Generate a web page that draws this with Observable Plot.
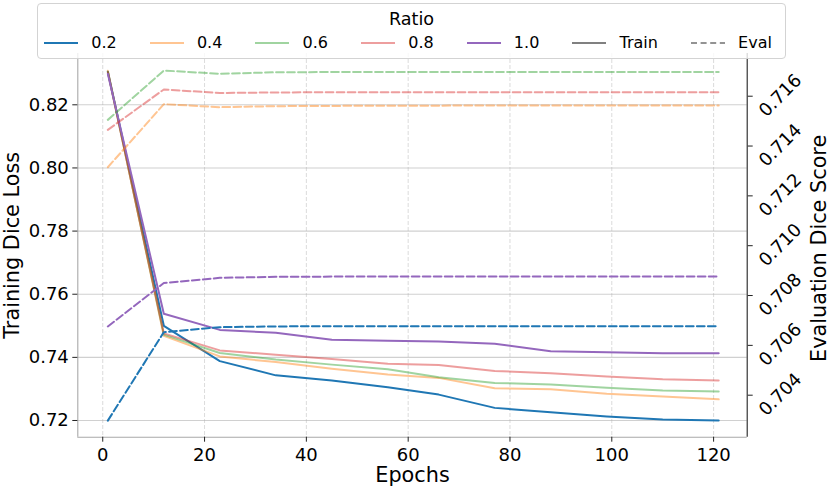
<!DOCTYPE html>
<html>
<head>
<meta charset="utf-8">
<script src="https://cdn.jsdelivr.net/npm/d3@7"></script>
<script src="https://cdn.jsdelivr.net/npm/@observablehq/plot@0.6"></script>
<style>
  html, body { margin: 0; padding: 0; background: #fff; }
  #wrap { position: relative; width: 830px; height: 488px; font-family: "DejaVu Sans", sans-serif; color: #000; }
  #legend { position: absolute; left: 37px; top: 3px; width: 749px; height: 56px; box-sizing: border-box;
            border: 1px solid #d3d3d3; border-radius: 4px; background: rgba(255,255,255,0.8); font-size: 16px; }
  #legend .title { position: absolute; top: 5px; left: 0; right: 0; text-align: center; line-height: 20px; font-size: 17.6px; }
  #legend .row { position: absolute; top: 29px; left: 6px; height: 20px; display: flex; align-items: center; line-height: 20px; white-space: nowrap; }
  #legend .item { display: flex; align-items: center; margin-right: 32.9px; }
  #legend .item:last-child { margin-right: 0; }
  #legend svg { display: block; margin-right: 13.3px; }
</style>
</head>
<body>
<div id="wrap"></div>
<script>
// ---- data ----
const epochs = [1, 12, 23, 34, 45, 56, 66, 77, 88, 99, 110, 121];
const ratios = ["0.2", "0.4", "0.6", "0.8", "1.0"];
const ratioColors = ["#1f77b4", "#ff7f0e", "#2ca02c", "#d62728", "#9467bd"];
const ratioOpacity = [1, 0.45, 0.45, 0.45, 1];

const train02 = [0.8305, 0.7500, 0.7388, 0.7343, 0.7327, 0.7305, 0.7282, 0.7240, 0.7226, 0.7213, 0.7203, 0.7200];
const train04 = [0.8308, 0.7468, 0.7403, 0.7385, 0.7364, 0.7346, 0.7335, 0.7302, 0.7299, 0.7285, 0.7276, 0.7267];
const train06 = [0.8305, 0.7472, 0.7414, 0.7393, 0.7377, 0.7362, 0.7337, 0.7319, 0.7314, 0.7304, 0.7295, 0.7292];
const train08 = [0.8303, 0.7476, 0.7422, 0.7408, 0.7395, 0.7380, 0.7376, 0.7357, 0.7350, 0.7339, 0.7331, 0.7327];
const train10 = [0.8298, 0.7538, 0.7487, 0.7478, 0.7456, 0.7453, 0.7450, 0.7443, 0.7419, 0.7416, 0.7413, 0.7413];

const eval02 = [0.70298, 0.70653, 0.70673, 0.70676, 0.70677, 0.70677, 0.70677, 0.70677, 0.70677, 0.70677, 0.70677, 0.70677];
const eval04 = [0.71315, 0.71568, 0.71556, 0.71560, 0.71561, 0.71562, 0.71562, 0.71563, 0.71563, 0.71563, 0.71563, 0.71563];
const eval06 = [0.71505, 0.71703, 0.71690, 0.71696, 0.71697, 0.71697, 0.71697, 0.71697, 0.71697, 0.71697, 0.71697, 0.71697];
const eval08 = [0.71465, 0.71627, 0.71613, 0.71615, 0.71616, 0.71616, 0.71616, 0.71616, 0.71616, 0.71616, 0.71616, 0.71616];
const eval10 = [0.70676, 0.70850, 0.70871, 0.70875, 0.70876, 0.70876, 0.70876, 0.70876, 0.70876, 0.70876, 0.70876, 0.70876];

const xTicks = [0, 20, 40, 60, 80, 100, 120];
const leftTicks = [0.72, 0.74, 0.76, 0.78, 0.80, 0.82];
const rightTicks = [0.704, 0.706, 0.708, 0.710, 0.712, 0.714, 0.716];

const xDomain = [-4.9, 126.6];
const leftDomain = [0.71471, 0.83625];
const rightDomain = [0.702314, 0.717714];

// ---- build ----
const trainSeries = [train02, train04, train06, train08, train10];
const evalSeries = [eval02, eval04, eval06, eval08, eval10];
const toLeft = d3.scaleLinear().domain(rightDomain).range(leftDomain);

const rows = (vals, i, map) => epochs.map((e, j) => ({epoch: e, value: map ? map(vals[j]) : vals[j], ratio: ratios[i]}));

const marks = [
  Plot.gridY(leftTicks, {stroke: "#b0b0b0", strokeOpacity: 0.6, strokeWidth: 1.1}),
  Plot.gridX(xTicks, {stroke: "#b0b0b0", strokeOpacity: 0.45, strokeWidth: 1, strokeDasharray: "4,2"}),
  Plot.ruleX([xDomain[0]], {stroke: "#a8a8a8", strokeWidth: 1.1}),
  Plot.ruleY([leftDomain[0]], {stroke: "#a8a8a8", strokeWidth: 1.1}),
  Plot.ruleX([xDomain[1]], {stroke: "#222", strokeWidth: 1.1})
];
trainSeries.forEach((s, i) => {
  marks.push(Plot.line(rows(s, i), {x: "epoch", y: "value", stroke: ratioColors[i], strokeOpacity: ratioOpacity[i], strokeWidth: 2}));
});
evalSeries.forEach((s, i) => {
  marks.push(Plot.line(rows(s, i, toLeft), {x: "epoch", y: "value", stroke: ratioColors[i], strokeOpacity: ratioOpacity[i], strokeWidth: 2, strokeDasharray: "7.7,3.3"}));
});
marks.push(
  Plot.axisX(xTicks, {tickSize: 5, tickPadding: 6, fontSize: 18, label: null, stroke: "#222"}),
  Plot.axisY(leftTicks, {anchor: "left", tickSize: 5, tickPadding: 4, fontSize: 18, tickFormat: ".2f", label: null, stroke: "#222"}),
  Plot.axisY(rightTicks.map(v => toLeft(v)), {anchor: "right", tickSize: 5, fill: "none", stroke: "#222", label: null}),
  Plot.text(rightTicks, {y: d => toLeft(d), text: d => d3.format(".3f")(d), frameAnchor: "right", dx: 15, dy: 17.5,
    rotate: -45, textAnchor: "start", lineAnchor: "middle", fontSize: 18, fill: "#000"}),
  Plot.text(["Training Dice Loss"], {frameAnchor: "left", dx: -65.3, rotate: -90, textAnchor: "middle", lineAnchor: "middle", fontSize: 20.8, fill: "#000"}),
  Plot.text(["Evaluation Dice Score"], {frameAnchor: "right", dx: 72.5, dy: 3, rotate: -90, textAnchor: "middle", lineAnchor: "middle", fontSize: 20.8, fill: "#000"}),
  Plot.text(["Epochs"], {frameAnchor: "bottom", dy: 38.3, textAnchor: "middle", lineAnchor: "middle", fontSize: 20.8, fill: "#000"})
);

const chart = Plot.plot({
  width: 830, height: 488,
  marginLeft: 77.3, marginRight: 83.3, marginTop: 53, marginBottom: 51.3,
  x: {domain: xDomain},
  y: {domain: leftDomain},
  style: {fontFamily: "DejaVu Sans", fontSize: "18px", color: "#000", background: "#fff", overflow: "visible"},
  marks
});
const wrap = document.getElementById("wrap");
wrap.appendChild(chart);

// ---- legend ----
const legend = document.createElement("div");
legend.id = "legend";
legend.innerHTML = `<div class="title">Ratio</div><div class="row"></div>`;
const row = legend.querySelector(".row");
const items = ratios.map((r, i) => ({label: r, color: ratioColors[i], opacity: ratioOpacity[i], dash: null}))
  .concat([{label: "Train", color: "#808080", opacity: 1, dash: null}, {label: "Eval", color: "#808080", opacity: 0.85, dash: "6,3.6"}]);
items.forEach(it => {
  const el = document.createElement("div");
  el.className = "item";
  el.innerHTML = `<svg width="34" height="20"><line x1="0" x2="34" y1="10" y2="10" stroke="${it.color}" stroke-opacity="${it.opacity}" stroke-width="2"${it.dash ? ` stroke-dasharray="${it.dash}"` : ""}/></svg><span>${it.label}</span>`;
  row.appendChild(el);
});
wrap.appendChild(legend);
</script>
</body>
</html>
